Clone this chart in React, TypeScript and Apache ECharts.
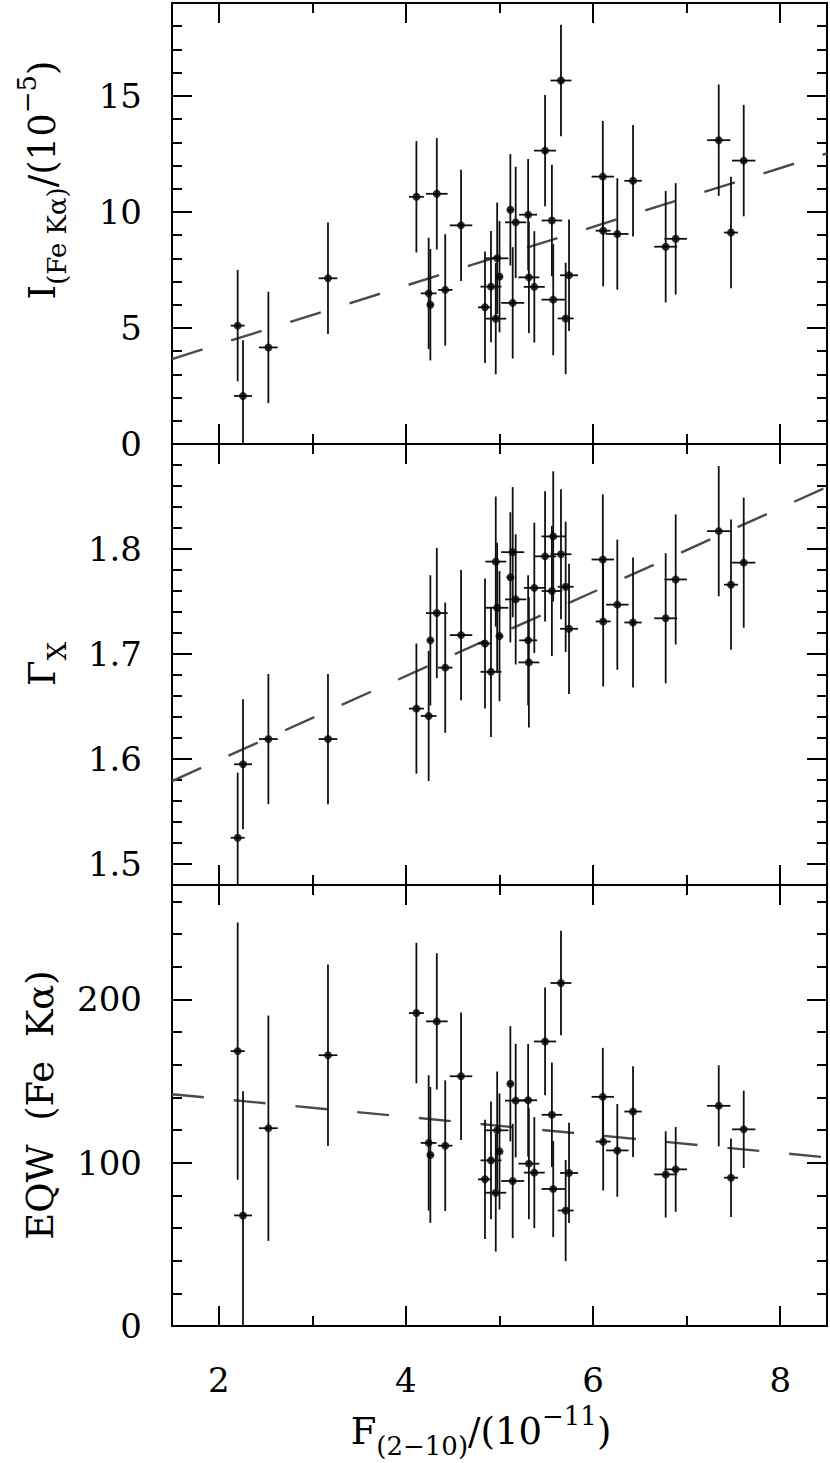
import React, { useEffect, useRef } from "react";
import * as echarts from "echarts";

// ---- data ----
const fluxX = [2.202, 2.259, 2.53, 3.167, 4.112, 4.243, 4.261, 4.33, 4.42, 4.589, 4.845, 4.909, 4.96, 4.975, 5.0, 5.116, 5.141, 5.173, 5.306, 5.314, 5.372, 5.487, 5.56, 5.574, 5.657, 5.707, 5.743, 6.104, 6.108, 6.259, 6.427, 6.776, 6.883, 7.343, 7.474, 7.61];
const fluxErr = [0.075, 0.096, 0.1, 0.1, 0.08, 0.084, 0.03, 0.116, 0.077, 0.12, 0.075, 0.112, 0.112, 0.12, 0.03, 0.03, 0.123, 0.114, 0.096, 0.112, 0.112, 0.118, 0.11, 0.125, 0.112, 0.085, 0.096, 0.12, 0.08, 0.12, 0.093, 0.123, 0.12, 0.125, 0.075, 0.125];

const ironI = [5.1, 2.07, 4.16, 7.14, 10.65, 6.49, 6.0, 10.78, 6.64, 9.42, 5.89, 6.78, 5.4, 8.0, 7.21, 10.09, 6.08, 9.55, 9.88, 7.18, 6.77, 12.64, 9.63, 6.22, 15.66, 5.41, 7.27, 11.52, 9.19, 9.05, 11.34, 8.5, 8.84, 13.09, 9.11, 12.21];
const ironIErr = [2.4, 2.4, 2.4, 2.4, 2.4, 2.4, 2.4, 2.4, 2.4, 2.4, 2.4, 2.4, 2.4, 2.4, 2.4, 2.4, 2.4, 2.4, 2.4, 2.4, 2.4, 2.4, 2.4, 2.4, 2.4, 2.4, 2.4, 2.4, 2.4, 2.4, 2.4, 2.4, 2.4, 2.4, 2.4, 2.4];

const gamma = [1.525, 1.595, 1.619, 1.619, 1.648, 1.641, 1.713, 1.739, 1.687, 1.718, 1.71, 1.683, 1.788, 1.744, 1.717, 1.773, 1.797, 1.752, 1.713, 1.692, 1.763, 1.793, 1.76, 1.812, 1.795, 1.764, 1.724, 1.79, 1.731, 1.747, 1.73, 1.734, 1.771, 1.817, 1.766, 1.787];
const gammaErr = [0.062, 0.062, 0.062, 0.062, 0.062, 0.062, 0.062, 0.062, 0.062, 0.062, 0.062, 0.062, 0.062, 0.062, 0.062, 0.062, 0.062, 0.062, 0.062, 0.062, 0.062, 0.062, 0.062, 0.062, 0.062, 0.062, 0.062, 0.062, 0.062, 0.062, 0.062, 0.062, 0.062, 0.062, 0.062, 0.062];

const eqw = [168.3, 67.7, 121.1, 165.8, 191.6, 112.1, 104.7, 186.5, 110.4, 152.9, 89.8, 101.4, 81.6, 119.8, 106.9, 148.3, 88.8, 138.0, 138.2, 99.4, 93.9, 174.2, 129.3, 83.9, 210.0, 70.7, 93.7, 140.3, 112.9, 107.5, 131.3, 92.8, 95.9, 134.8, 90.8, 120.4];
const eqwErr = [78.7, 76, 69, 55.6, 43, 41.4, 41.6, 41.7, 40, 39, 36.5, 36, 36, 36, 35.5, 35.3, 35, 34.8, 34.5, 34, 34, 33, 32, 29.4, 32, 31, 30.7, 30, 30, 28.4, 27.8, 26.4, 26, 24.8, 24, 23.7];

// fitted lines (end points)
const fitX = [1.5, 8.5];
const fitI = [3.66, 12.52];
const fitGamma = [1.579, 1.859];
const fitEqw = [141.9, 103.2];

// ticks
const xMajorTicks = [2, 4, 6, 8];
const xMinorTicks = [3, 5, 7];
const iMajorTicks = [0, 5, 10, 15];
const iMinorTicks = [1, 2, 3, 4, 6, 7, 8, 9, 11, 12, 13, 14, 16, 17, 18];
const gMajorTicks = [1.5, 1.6, 1.7, 1.8];
const gMinorTicks = [1.52, 1.54, 1.56, 1.58, 1.62, 1.64, 1.66, 1.68, 1.72, 1.74, 1.76, 1.78, 1.82, 1.84, 1.86, 1.88];
const eMajorTicks = [0, 100, 200];
const eMinorTicks = [20, 40, 60, 80, 120, 140, 160, 180, 220, 240, 260];

const xRange = [1.5, 8.5];
const iRange = [0, 19];
const gRange = [1.48, 1.9];
const eRange = [0, 270];

const FONT = "'DejaVu Serif', 'Liberation Serif', serif";
const GRID_TOPS = [3, 444, 885];
const GRID_H = 441;
const GRID_LEFT = 172;
const GRID_W = 655;

const lineBlack = { color: "#000", width: 2 };

function xAxes(g: number, showLabels: boolean) {
  const mk = (position: string, ticks: number[], len: number, labels: boolean) => ({
    type: "value",
    gridIndex: g,
    position,
    min: xRange[0],
    max: xRange[1],
    splitLine: { show: false },
    axisLine: { show: true, onZero: false, lineStyle: lineBlack },
    axisTick: { show: true, inside: true, length: len, customValues: ticks, lineStyle: lineBlack },
    axisLabel: {
      show: labels,
      customValues: ticks,
      margin: 40,
      fontSize: 34,
      lineHeight: 28,
      fontFamily: FONT,
      color: "#000",
      formatter: (v: number) => String(v),
    },
  });
  return [
    mk("bottom", xMajorTicks, 20, showLabels),
    mk("bottom", xMinorTicks, 10, false),
    mk("top", xMajorTicks, 20, false),
    mk("top", xMinorTicks, 10, false),
  ];
}

function yAxes(g: number, range: number[], major: number[], minor: number[], fmt: (v: number) => string) {
  const mk = (position: string, ticks: number[], len: number, labels: boolean) => ({
    type: "value",
    gridIndex: g,
    position,
    min: range[0],
    max: range[1],
    splitLine: { show: false },
    axisLine: { show: true, onZero: false, lineStyle: lineBlack },
    axisTick: { show: true, inside: true, length: len, customValues: ticks, lineStyle: lineBlack },
    axisLabel: {
      show: labels,
      customValues: ticks,
      margin: 30,
      fontSize: 34,
      fontFamily: FONT,
      color: "#000",
      formatter: fmt,
    },
  });
  return [
    mk("left", major, 20, true),
    mk("left", minor, 10, false),
    mk("right", major, 20, false),
    mk("right", minor, 10, false),
  ];
}

function errorBarRender(params: any, api: any) {
  const x = api.value(0);
  const y = api.value(1);
  const ex = api.value(2);
  const ey = api.value(3);
  const l = api.coord([x - ex, y]);
  const r = api.coord([x + ex, y]);
  const t = api.coord([x, y + ey]);
  const b = api.coord([x, y - ey]);
  const style = { stroke: "#111", lineWidth: 1.8 };
  return {
    type: "group",
    children: [
      { type: "line", shape: { x1: l[0], y1: l[1], x2: r[0], y2: r[1] }, style },
      { type: "line", shape: { x1: t[0], y1: t[1], x2: b[0], y2: b[1] }, style },
    ],
  };
}

function panelSeries(g: number, ys: number[], errs: number[], fitY: number[]) {
  const idx = 4 * g;
  return [
    {
      type: "line",
      xAxisIndex: idx,
      yAxisIndex: idx,
      data: fitX.map((x, i) => [x, fitY[i]]),
      symbol: "none",
      lineStyle: { color: "#4a4a4a", width: 2.4, type: [32, 30], cap: "butt" },
      silent: true,
      z: 1,
    },
    {
      type: "custom",
      xAxisIndex: idx,
      yAxisIndex: idx,
      clip: true,
      renderItem: errorBarRender,
      encode: { x: 0, y: 1 },
      data: fluxX.map((x, i) => [x, ys[i], fluxErr[i], errs[i]]),
      z: 2,
    },
    {
      type: "scatter",
      xAxisIndex: idx,
      yAxisIndex: idx,
      symbol: "circle",
      symbolSize: 8,
      itemStyle: { color: "#000" },
      data: fluxX.map((x, i) => [x, ys[i]]),
      z: 3,
    },
  ];
}

const richMain = { fontSize: 37, fontFamily: FONT, lineHeight: 56, color: "#000" };
const richSub = { fontSize: 26, fontFamily: FONT, lineHeight: 26, verticalAlign: "bottom", color: "#000" };
const richSup = { fontSize: 26, fontFamily: FONT, lineHeight: 26, verticalAlign: "top", color: "#000" };

function titleText(x: number, y: number, text: string, rotated: boolean) {
  return {
    type: "text",
    x,
    y,
    rotation: rotated ? Math.PI / 2 : 0,
    style: {
      text,
      fill: "#000",
      fontSize: 37,
      fontFamily: FONT,
      align: "center",
      verticalAlign: "middle",
      rich: { m: richMain, s: richSub, u: richSup },
    },
  };
}

export default function App() {
  const ref = useRef<HTMLDivElement>(null);
  useEffect(() => {
    if (!ref.current) return;
    const chart = echarts.init(ref.current, undefined, { renderer: "svg" });
    const fmtInt = (v: number) => String(Math.round(v));
    const fmt1 = (v: number) => v.toFixed(1);
    chart.setOption({
      animation: false,
      backgroundColor: "#fff",
      grid: GRID_TOPS.map((top) => ({ left: GRID_LEFT, top, width: GRID_W, height: GRID_H, containLabel: false })),
      xAxis: [...xAxes(0, false), ...xAxes(1, false), ...xAxes(2, true)],
      yAxis: [
        ...yAxes(0, iRange, iMajorTicks, iMinorTicks, fmtInt),
        ...yAxes(1, gRange, gMajorTicks, gMinorTicks, fmt1),
        ...yAxes(2, eRange, eMajorTicks, eMinorTicks, fmtInt),
      ],
      series: [
        ...panelSeries(0, ironI, ironIErr, fitI),
        ...panelSeries(1, gamma, gammaErr, fitGamma),
        ...panelSeries(2, eqw, eqwErr, fitEqw),
      ],
      graphic: [
        titleText(42, 180, "{m|I}{s|(Fe Kα)}{m|/(10}{u|−5}{m|)}", true),
        titleText(42, 664, "{m|Γ}{s|X}", true),
        titleText(40, 1105, "{m|EQW  (Fe  Kα)}", true),
        titleText(481, 1431, "{m|F}{s|(2−10)}{m|/(10}{u|−11}{m|)}", false),
      ],
    });
    return () => chart.dispose();
  }, []);
  return (
    <div
      ref={ref}
      style={{ position: "absolute", left: 0, top: 0, width: 830, height: 1463, background: "#fff" }}
    />
  );
}
